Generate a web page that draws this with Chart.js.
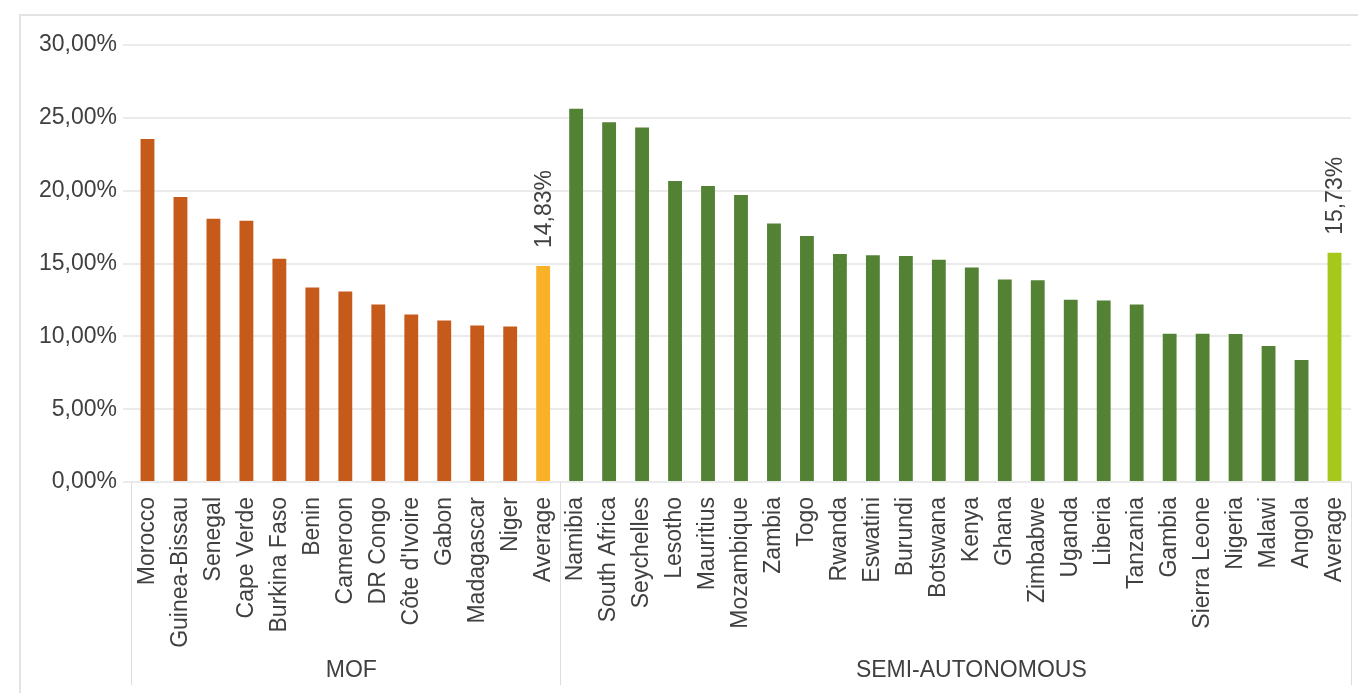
<!DOCTYPE html>
<html lang="en">
<head>
    <meta charset="UTF-8">
    <title>MOF vs Semi-autonomous</title>
    <style>
        body { margin: 0; background: #fff; font-family: "Liberation Sans", Arial, sans-serif; }
        .wrap { width: 1358px; height: 693px; position: relative; }
    </style>
</head>
<body>
    <div class="wrap">
        <canvas id="chart"></canvas>
    </div>

    <script src="https://cdn.jsdelivr.net/npm/chart.js@4"></script>
    <script>
        // data (percent)
        const mofCountries = ['Morocco', 'Guinea-Bissau', 'Senegal', 'Cape Verde', 'Burkina Faso', 'Benin',
            'Cameroon', 'DR Congo', "Côte d'Ivoire", 'Gabon', 'Madagascar', 'Niger', 'Average'];
        const mofValues = [23.55, 19.57, 18.07, 17.93, 15.33, 13.35, 13.08, 12.19, 11.50, 11.09, 10.75, 10.68, 14.83];

        const semiCountries = ['Namibia', 'South Africa', 'Seychelles', 'Lesotho', 'Mauritius', 'Mozambique',
            'Zambia', 'Togo', 'Rwanda', 'Eswatini', 'Burundi', 'Botswana', 'Kenya', 'Ghana', 'Zimbabwe',
            'Uganda', 'Liberia', 'Tanzania', 'Gambia', 'Sierra Leone', 'Nigeria', 'Malawi', 'Angola', 'Average'];
        const semiValues = [25.63, 24.70, 24.33, 20.66, 20.32, 19.71, 17.74, 16.88, 15.65, 15.56, 15.52, 15.26,
            14.72, 13.90, 13.85, 12.51, 12.46, 12.19, 10.18, 10.18, 10.16, 9.34, 8.38, 15.73];

        const groupNames = ['MOF', 'SEMI-AUTONOMOUS'];
        const yTicks = [0, 5, 10, 15, 20, 25, 30];

        const labels = mofCountries.concat(semiCountries);
        const values = mofValues.concat(semiValues);

        const colMof = '#C55A1A', colMofAvg = '#F9B128';
        const colSemi = '#548235', colSemiAvg = '#A5C81B';
        const colors = mofCountries.map(c => c === 'Average' ? colMofAvg : colMof)
            .concat(semiCountries.map(c => c === 'Average' ? colSemiAvg : colSemi));

        const textColor = '#404040';
        const font = '"Liberation Sans", Arial, sans-serif';
        const pct = v => v.toFixed(2).replace('.', ',') + '%';

        // outer frame, group separators and group names
        const groupPlugin = {
            id: 'groups',
            beforeDraw(chart) {
                const c = chart.ctx;
                c.save();
                c.strokeStyle = '#E3E3E3';
                c.lineWidth = 2;
                c.strokeRect(20, 15, 1400, 700);
                c.restore();
            },
            afterDraw(chart) {
                const c = chart.ctx;
                const x = chart.scales.x;
                const area = chart.chartArea;
                const n1 = mofCountries.length;
                const mid = (x.getPixelForValue(n1 - 1) + x.getPixelForValue(n1)) / 2;
                const seps = [area.left, mid, area.right];
                c.save();
                c.strokeStyle = '#DDDDDD';
                c.lineWidth = 1;
                seps.forEach(s => {
                    c.beginPath();
                    c.moveTo(Math.round(s) + 0.5, area.bottom);
                    c.lineTo(Math.round(s) + 0.5, 685);
                    c.stroke();
                });
                c.fillStyle = textColor;
                c.font = '23px ' + font;
                c.textAlign = 'center';
                c.textBaseline = 'alphabetic';
                c.fillText(groupNames[0], (seps[0] + seps[1]) / 2 + 6, 677);
                c.fillText(groupNames[1], (seps[1] + seps[2]) / 2 + 16, 677);
                c.restore();
            },
            afterDatasetsDraw(chart) {
                const c = chart.ctx;
                const meta = chart.getDatasetMeta(0);
                c.save();
                c.fillStyle = textColor;
                c.font = '23px ' + font;
                c.textAlign = 'left';
                c.textBaseline = 'middle';
                labels.forEach((l, i) => {
                    if (l !== 'Average') return;
                    const bar = meta.data[i];
                    c.save();
                    c.translate(bar.x + 1, bar.y - 18);
                    c.rotate(-Math.PI / 2);
                    c.fillText(pct(values[i]), 0, 0);
                    c.restore();
                });
                c.restore();
            }
        };

        new Chart(document.getElementById('chart'), {
            type: 'bar',
            data: {
                labels: labels,
                datasets: [{
                    data: values,
                    backgroundColor: colors,
                    barPercentage: 0.42,
                    categoryPercentage: 1
                }]
            },
            options: {
                responsive: true,
                maintainAspectRatio: false,
                animation: false,
                layout: { padding: { top: 45, right: 7, bottom: 0, left: 0 } },
                plugins: { legend: { display: false }, tooltip: { enabled: false } },
                scales: {
                    x: {
                        grid: { display: false },
                        border: { display: false },
                        ticks: {
                            autoSkip: false,
                            maxRotation: 90,
                            minRotation: 90,
                            padding: 7,
                            color: textColor,
                            font: { family: font, size: 23 }
                        },
                        afterFit(scale) {
                            scale.height = 211;
                            scale.paddingLeft = 0;
                            scale.paddingRight = 0;
                        }
                    },
                    y: {
                        min: 0,
                        max: 30,
                        afterBuildTicks(scale) { scale.ticks = yTicks.map(v => ({ value: v })); },
                        grid: {
                            color: '#EBEBEB',
                            lineWidth: 2,
                            tickLength: 8,
                            drawTicks: true
                        },
                        border: { display: false },
                        ticks: {
                            padding: 6,
                            color: textColor,
                            font: { family: font, size: 23 },
                            callback: v => pct(v)
                        },
                        afterFit(scale) { scale.width = 131; }
                    }
                }
            },
            plugins: [groupPlugin]
        });
    </script>
</body>
</html>
